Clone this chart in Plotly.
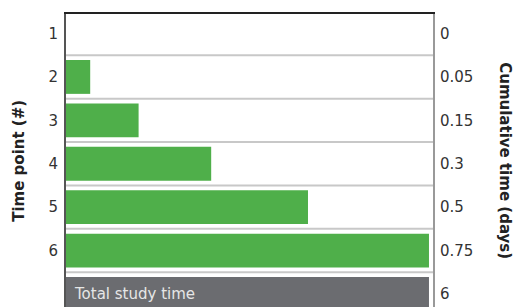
import plotly.graph_objects as go

# ---- data ----
time_points = ["1", "2", "3", "4", "5", "6"]
cum_days = [0, 0.05, 0.15, 0.3, 0.5, 0.75]
total_label = "Total study time"
total_days = 6

cats = time_points + ["total"]
left_labels = time_points + [""]
right_labels = [f"{v:g}" for v in cum_days] + [f"{total_days:g}"]

green = "#4FAF4A"
grey = "#6B6C70"
FONT = "DejaVu Sans"

bar_x = cum_days + [max(cum_days)]
bar_colors = [green] * len(cum_days) + [grey]

fig = go.Figure()
fig.add_trace(go.Bar(
    y=cats, x=bar_x, orientation="h",
    marker=dict(color=bar_colors, line=dict(width=0)),
    hoverinfo="skip", showlegend=False,
))
fig.add_trace(go.Scatter(
    y=cats, x=[0] * len(cats), yaxis="y2", mode="markers",
    marker=dict(opacity=0), hoverinfo="skip", showlegend=False,
))

yr = [6.30, -0.45]
for i in range(len(cats) - 1):
    fig.add_shape(type="line", xref="paper", x0=0, x1=1, yref="y",
                  y0=i + 0.5, y1=i + 0.5, layer="below",
                  line=dict(color="#C8C8C8", width=2))

fig.update_layout(
    width=515, height=307,
    margin=dict(l=66, r=82, t=14, b=0),
    plot_bgcolor="white", paper_bgcolor="white",
    bargap=0.22,
    font=dict(family=FONT, size=15, color="#333333"),
    xaxis=dict(range=[0, 0.7583], showgrid=False, zeroline=False,
               showticklabels=False, ticks="", side="top",
               showline=True, linecolor="#222222", linewidth=1.5),
    yaxis=dict(type="category", categoryorder="array", categoryarray=cats,
               range=yr, tickmode="array", tickvals=cats, ticktext=left_labels,
               showgrid=False, zeroline=False, ticks="", ticklabelstandoff=3,
               showline=True, linecolor="#555555", linewidth=2),
    yaxis2=dict(type="category", categoryorder="array", categoryarray=cats,
                overlaying="y", side="right", range=yr, tickmode="array",
                tickvals=cats, ticktext=right_labels, showgrid=False,
                zeroline=False, ticks="", ticklabelstandoff=2,
                showline=True, linecolor="#999999", linewidth=2),
    annotations=[
        dict(text=total_label, x=0, y="total", xref="x", yref="y",
             xanchor="left", yanchor="middle", xshift=6, showarrow=False,
             font=dict(family=FONT, size=15, color="#E6E6E6")),
        dict(text="<b>Time point (#)</b>", xref="paper", yref="paper",
             x=-0.13, y=0.5, xanchor="center", yanchor="middle",
             textangle=-90, showarrow=False,
             font=dict(family=FONT, size=15, color="#222222")),
        dict(text="<b>Cumulative time (days)</b>", xref="paper", yref="paper",
             x=1.197, y=0.5, xanchor="center", yanchor="middle",
             textangle=90, showarrow=False,
             font=dict(family=FONT, size=15, color="#222222")),
    ],
)

fig.write_html("out.html", config={"displayModeBar": False},
               post_script="document.body.style.margin='0';")
